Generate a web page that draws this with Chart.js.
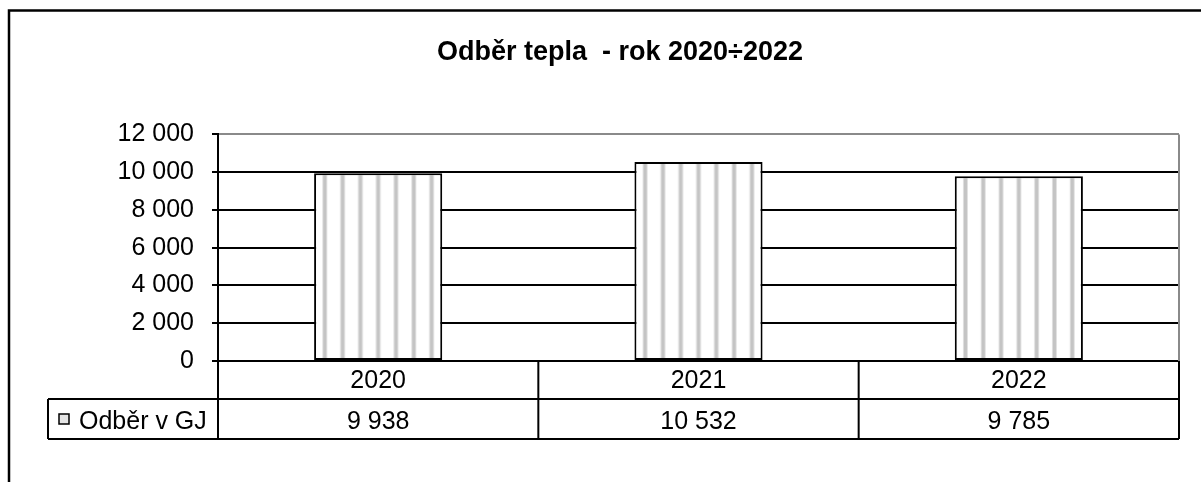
<!DOCTYPE html>
<html>
<head>
<meta charset="utf-8">
<title>Odběr tepla</title>
<script src="https://cdn.jsdelivr.net/npm/chart.js@4.4.1/dist/chart.umd.min.js"></script>
<style>
  html, body { margin: 0; padding: 0; background: #fff; }
  #wrap { width: 1201px; height: 482px; }
</style>
</head>
<body>
<div id="wrap"><canvas id="chart" width="1201" height="482"></canvas></div>
<script>
// --- data ---
const years = ['2020', '2021', '2022'];
const heatGJ = [9938, 10532, 9785];
const seriesLabel = 'Odběr v GJ';
const yTicks = [0, 2000, 4000, 6000, 8000, 10000, 12000];
const chartTitle = 'Odběr tepla  - rok 2020÷2022';

const FONT = "'Liberation Sans', Arial, sans-serif";

// 9938 -> "9 938" (czech style, no-break space)
const fmt = v => String(v).replace(/\B(?=(\d{3})+(?!\d))/g, '\u00a0');

// vertical stripe tile used as bar fill (5 stripes, 17.8px apart)
function stripeTile() {
    const c = document.createElement('canvas');
    c.width = 89;
    c.height = 4;
    const g = c.getContext('2d');
    g.fillStyle = '#fff';
    g.fillRect(0, 0, 89, 4);
    for (let k = 0; k < 5; k++) {
        const cx = 8.9 + 17.8 * k;
        g.fillStyle = '#e0e0e0';
        g.fillRect(cx - 2.5, 0, 5, 4);
        g.fillStyle = '#c4c4c4';
        g.fillRect(cx - 1.5, 0, 3, 4);
    }
    return c;
}

const tile = stripeTile();
const patterns = [];

// one pattern per bar so the stripes line up with each bar's centre
function barFill(ctx) {
    const xs = ctx.chart.scales.x;
    if (!xs || ctx.dataIndex === undefined) return '#fff';
    let p = patterns[ctx.dataIndex];
    if (!p) {
        p = ctx.chart.ctx.createPattern(tile, 'repeat');
        patterns[ctx.dataIndex] = p;
    }
    const cx = xs.getPixelForValue(ctx.dataIndex);
    p.setTransform(new DOMMatrix().translate(cx - 8.9, 0));
    return p;
}

// outer frame (only top and left edges are visible in the crop)
const framePlugin = {
    id: 'frame',
    beforeDraw(chart) {
        const { ctx, width, height } = chart;
        ctx.save();
        ctx.strokeStyle = '#000';
        ctx.lineWidth = 2.5;
        ctx.beginPath();
        ctx.moveTo(width, 10.5);
        ctx.lineTo(9, 10.5);
        ctx.lineTo(9, height);
        ctx.stroke();
        ctx.restore();
    }
};

// data table under the plot: grid lines, legend key and values row
const tablePlugin = {
    id: 'dataTable',
    afterDraw(chart) {
        const { ctx, chartArea: a, scales: { x } } = chart;
        const half = (x.getPixelForValue(1) - x.getPixelForValue(0)) / 2;
        const r1 = a.bottom;
        const r2 = a.bottom + 38;
        const r3 = a.bottom + 78;
        const keyLeft = 48;

        ctx.save();
        // grey right edge of the plot area
        ctx.strokeStyle = '#8a8a8a';
        ctx.lineWidth = 2;
        ctx.beginPath();
        ctx.moveTo(a.right, a.top);
        ctx.lineTo(a.right, r1);
        ctx.stroke();

        ctx.strokeStyle = '#000';
        ctx.lineWidth = 2;
        ctx.beginPath();
        ctx.moveTo(keyLeft, r2);
        ctx.lineTo(a.right, r2);
        ctx.moveTo(keyLeft, r3);
        ctx.lineTo(a.right, r3);
        ctx.moveTo(keyLeft, r2);
        ctx.lineTo(keyLeft, r3);
        ctx.moveTo(a.left, r1);
        ctx.lineTo(a.left, r3);
        years.forEach((_, i) => {
            const right = x.getPixelForValue(i) + half;
            ctx.moveTo(right, r1);
            ctx.lineTo(right, r3);
        });
        ctx.stroke();

        // legend key
        ctx.fillStyle = '#e4e4e4';
        ctx.fillRect(59, r2 + 15, 10, 10);
        ctx.lineWidth = 1.5;
        ctx.strokeRect(59, r2 + 15, 10, 10);

        ctx.fillStyle = '#000';
        ctx.font = `25px ${FONT}`;
        ctx.textBaseline = 'alphabetic';
        ctx.textAlign = 'left';
        ctx.fillText(seriesLabel, 79, r2 + 30);

        ctx.textAlign = 'center';
        heatGJ.forEach((v, i) => {
            ctx.fillText(fmt(v), x.getPixelForValue(i), r2 + 30);
        });
        ctx.restore();
    }
};

new Chart(document.getElementById('chart'), {
    type: 'bar',
    data: {
        labels: years,
        datasets: [{
            label: seriesLabel,
            data: heatGJ,
            backgroundColor: barFill,
            borderColor: '#000',
            borderWidth: 2,
            borderSkipped: false,
            categoryPercentage: 1,
            barPercentage: 0.4
        }]
    },
    options: {
        responsive: false,
        animation: false,
        devicePixelRatio: 1,
        layout: { padding: { left: 61, right: 22, top: 0, bottom: 43 } },
        plugins: {
            legend: { display: false },
            tooltip: { enabled: false },
            title: {
                display: true,
                text: chartTitle,
                color: '#000',
                font: { family: FONT, size: 27, weight: 'bold' },
                padding: { top: 36, bottom: 66 }
            }
        },
        scales: {
            x: {
                afterFit: s => { s.height = 78; },
                grid: { display: false, drawTicks: false },
                border: { display: false },
                ticks: { color: '#000', font: { family: FONT, size: 25 }, padding: 5 }
            },
            y: {
                min: 0,
                max: 12000,
                afterFit: s => { s.width = 157; },
                afterBuildTicks: s => { s.ticks = yTicks.map(v => ({ value: v })); },
                border: { color: '#000', width: 2 },
                grid: {
                    color: c => (c.tick && c.tick.value === 12000 ? '#8a8a8a' : '#000'),
                    lineWidth: 2,
                    tickColor: '#000',
                    tickWidth: 2,
                    tickLength: 6
                },
                ticks: {
                    color: '#000',
                    font: { family: FONT, size: 25 },
                    padding: 18,
                    callback: v => fmt(v)
                }
            }
        }
    },
    plugins: [framePlugin, tablePlugin]
});
</script>
</body>
</html>
